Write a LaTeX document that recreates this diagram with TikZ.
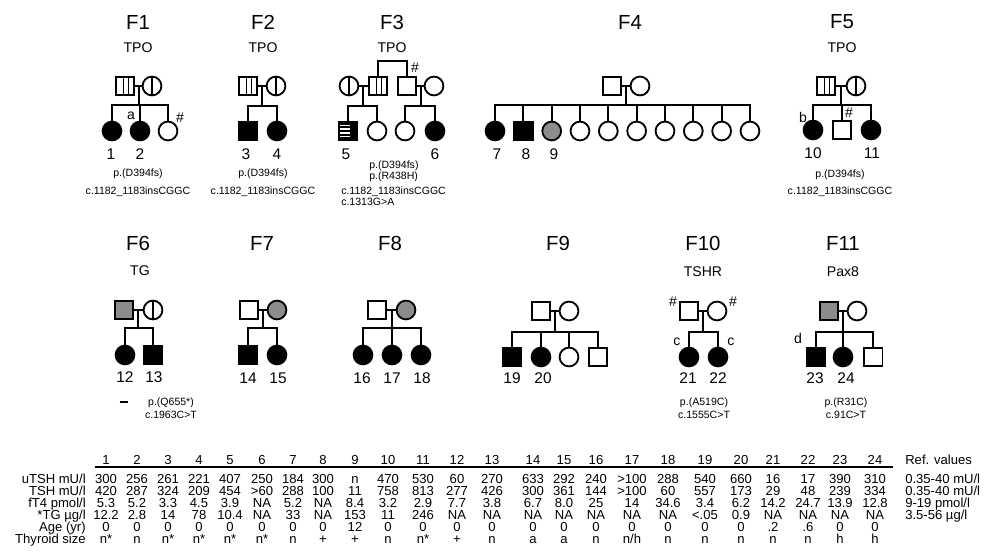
\documentclass[tikz,border=0pt]{standalone}
\usepackage{fontspec}
\setmainfont{Liberation Sans}
\usepackage{tikz}
\usetikzlibrary{calc}

\definecolor{midgray}{gray}{0.55}

\begin{document}
\begin{tikzpicture}[x=0.025cm, y=-0.025cm,
  rel/.style={line width=1.3pt},
  ind/.style={draw, line width=1.3pt, inner sep=0pt, minimum size=0.47cm},
  male/.style={ind, rectangle},
  female/.style={ind, circle},
  aff/.style={fill=black},
  half/.style={fill=midgray},
  fcar/.style={path picture={\draw[line width=1.1pt] (path picture bounding box.north) -- (path picture bounding box.south);}},
  mcar/.style={path picture={
    \draw[line width=1.1pt] ([xshift=-1pt]path picture bounding box.north) -- ([xshift=-1pt]path picture bounding box.south);
    \draw[line width=1.1pt] ([xshift=2.5pt]path picture bounding box.north) -- ([xshift=2.5pt]path picture bounding box.south);}},
  striped/.style={fill=black, path picture={
    \foreach \q in {0.2,0.4,0.6,0.8}
      \draw[white, line width=1.1pt] ($(path picture bounding box.north west)!\q!(path picture bounding box.south west)$) -- ++(8pt,0);}},
  fam/.style={font=\fontsize{14.5}{16}\selectfont, inner sep=0pt},
  gene/.style={font=\fontsize{10}{12}\selectfont, inner sep=0pt},
  num/.style={font=\fontsize{11}{13}\selectfont, inner sep=0pt},
  tag/.style={font=\fontsize{10}{12}\selectfont, inner sep=0pt},
  mut/.style={font=\fontsize{7.5}{9}\selectfont, inner sep=0pt},
  cell/.style={font=\fontsize{9.3}{10}\selectfont, inner sep=0pt, text height=6.7pt, text depth=0pt}
]
\useasboundingbox (0,0) rectangle (986,559);

% F1
\node[fam] (t1) at (138,22) {F1};
\node[gene] (g1) at (138,48) {TPO};
\node[male, mcar] (f1fa) at (125,86) {};
\node[female, fcar] (f1mo) at (152,86) {};
\coordinate (f1s) at (139,105);
\node[female, aff] (f1c1) at (112,131) {};
\node[female, aff] (f1c2) at (140,131) {};
\node[female] (f1c3) at (168,131) {};
\node[tag] (f1a) at (131,116) {a};
\node[tag] (f1h) at (180,118) {\#};
\node[num] (n1) at (111,154) {1};
\node[num] (n2) at (140,154) {2};
\node[mut] (m1a) at (138,174) {p.(D394fs)};
\node[mut] (m1b) at (138,192) {c.1182\_1183insCGGC};
\draw[rel] (f1fa) -- (f1mo);
\draw[rel] (f1s) -- (f1s |- f1fa);
\draw[rel] (f1c1) |- (f1s) -| (f1c3);
\draw[rel] (f1c2) -- (f1c2 |- f1s);

% F2
\node[fam] (t2) at (263,22) {F2};
\node[gene] (g2) at (263,48) {TPO};
\node[male, mcar] (f2fa) at (248,86) {};
\node[female, fcar] (f2mo) at (276,86) {};
\coordinate (f2s) at (262,106);
\node[male, aff] (f2c1) at (248,131) {};
\node[female, aff] (f2c2) at (277,131) {};
\node[num] (n3) at (246,154) {3};
\node[num] (n4) at (277,154) {4};
\node[mut] (m2a) at (263,174) {p.(D394fs)};
\node[mut] (m2b) at (263,192) {c.1182\_1183insCGGC};
\draw[rel] (f2fa) -- (f2mo);
\draw[rel] (f2s) -- (f2s |- f2fa);
\draw[rel] (f2c1) |- (f2s) -| (f2c2);

% F3
\node[fam] (t3) at (392,22) {F3};
\node[gene] (g3) at (392,48) {TPO};
\node[female, fcar] (f3mo1) at (349,86) {};
\node[male, mcar] (f3fa1) at (378,86) {};
\node[male] (f3fa2) at (407,86) {};
\node[female] (f3mo2) at (434,86) {};
\node[tag] (f3h) at (415,68) {\#};
\coordinate (f3s1) at (363,106);
\coordinate (f3s2) at (421,106);
\node[male, striped] (f3c1) at (348,131) {};
\node[female] (f3c2) at (377,131) {};
\node[female] (f3c3) at (405,131) {};
\node[female, aff] (f3c4) at (435,131) {};
\node[num] (n5) at (346,154) {5};
\node[num] (n6) at (435,154) {6};
\node[mut, anchor=west] (m3a) at (369,166) {p.(D394fs)};
\node[mut, anchor=west] (m3b) at (369,177) {p.(R438H)};
\node[mut, anchor=west] (m3c) at (341,192) {c.1182\_1183insCGGC};
\node[mut, anchor=west] (m3d) at (341,202) {c.1313G>A};
\draw[rel] (f3fa1.north) -- ++(0,-15) -| (f3fa2.north);
\draw[rel] (f3mo1) -- (f3fa1);
\draw[rel] (f3fa2) -- (f3mo2);
\draw[rel] (f3s1) -- (f3s1 |- f3fa1);
\draw[rel] (f3s2) -- (f3s2 |- f3fa2);
\draw[rel] (f3c1) |- (f3s1) -| (f3c2);
\draw[rel] (f3c3) |- (f3s2) -| (f3c4);

% F4
\node[fam] (t4) at (630,22) {F4};
\node[male] (f4fa) at (612,86) {};
\node[female] (f4mo) at (640,86) {};
\coordinate (f4s) at (626,105);
\node[female, aff] (f4c1) at (495,131) {};
\node[male, aff] (f4c2) at (523.3,131) {};
\node[female, half] (f4c3) at (551.7,131) {};
\foreach \k in {4,...,10}
  \node[female] (f4c\k) at ({495+(\k-1)*28.33},131) {};
\node[num] (n7) at (497,154) {7};
\node[num] (n8) at (526,154) {8};
\node[num] (n9) at (554,154) {9};
\draw[rel] (f4fa) -- (f4mo);
\draw[rel] (f4s) -- (f4s |- f4fa);
\draw[rel] (f4c1) |- (f4s) -| (f4c10);
\foreach \k in {2,...,9}
  \draw[rel] (f4c\k) -- (f4c\k |- f4s);

% F5
\node[fam] (t5) at (842,22) {F5};
\node[gene] (g5) at (842,48) {TPO};
\node[male, mcar] (f5fa) at (826,86) {};
\node[female, fcar] (f5mo) at (856,86) {};
\coordinate (f5s) at (841,105);
\node[female, aff] (f5c1) at (813,130) {};
\node[male] (f5c2) at (842,130) {};
\node[female, aff] (f5c3) at (871,130) {};
\node[tag] (f5b) at (803,117) {b};
\node[tag] (f5h) at (849,113) {\#};
\node[num] (n10) at (813,153) {10};
\node[num] (n11) at (872,153) {11};
\node[mut] (m5a) at (840,175) {p.(D394fs)};
\node[mut] (m5b) at (840,192) {c.1182\_1183insCGGC};
\draw[rel] (f5fa) -- (f5mo);
\draw[rel] (f5s) -- (f5s |- f5fa);
\draw[rel] (f5c1) |- (f5s) -| (f5c3);
\draw[rel] (f5c2) -- (f5c2 |- f5s);

% F6
\node[fam] (t6) at (138,243) {F6};
\node[gene] (g6) at (140,271) {TG};
\node[male, half] (f6fa) at (124,310) {};
\node[female, fcar] (f6mo) at (153,310) {};
\coordinate (f6s) at (138,328);
\node[female, aff] (f6c1) at (125,355) {};
\node[male, aff] (f6c2) at (153,355) {};
\node[num] (n12) at (125,377) {12};
\node[num] (n13) at (154,377) {13};
\node (f6dash) at (124,402) {\rule{6pt}{1.8pt}};
\node[mut] (m6a) at (171,403) {p.(Q655*)};
\node[mut] (m6b) at (171,415) {c.1963C>T};
\draw[rel] (f6fa) -- (f6mo);
\draw[rel] (f6s) -- (f6s |- f6fa);
\draw[rel] (f6c1) |- (f6s) -| (f6c2);

% F7
\node[fam] (t7) at (262,243) {F7};
\node[male] (f7fa) at (249,310) {};
\node[female, half] (f7mo) at (277,310) {};
\coordinate (f7s) at (263,328);
\node[male, aff] (f7c1) at (248,355) {};
\node[female, aff] (f7c2) at (277,355) {};
\node[num] (n14) at (248,378) {14};
\node[num] (n15) at (278,378) {15};
\draw[rel] (f7fa) -- (f7mo);
\draw[rel] (f7s) -- (f7s |- f7fa);
\draw[rel] (f7c1) |- (f7s) -| (f7c2);

% F8
\node[fam] (t8) at (390,243) {F8};
\node[male] (f8fa) at (377,310) {};
\node[female, half] (f8mo) at (406,310) {};
\coordinate (f8s) at (392,328);
\node[female, aff] (f8c1) at (363,355) {};
\node[female, aff] (f8c2) at (392,355) {};
\node[female, aff] (f8c3) at (421,355) {};
\node[num] (n16) at (362,378) {16};
\node[num] (n17) at (392,378) {17};
\node[num] (n18) at (422,378) {18};
\draw[rel] (f8fa) -- (f8mo);
\draw[rel] (f8s) -- (f8s |- f8fa);
\draw[rel] (f8c1) |- (f8s) -| (f8c3);
\draw[rel] (f8c2) -- (f8c2 |- f8s);

% F9
\node[fam] (t9) at (558,243) {F9};
\node[male] (f9fa) at (541,311) {};
\node[female] (f9mo) at (569,311) {};
\coordinate (f9s) at (555,332);
\node[male, aff] (f9c1) at (512,357) {};
\node[female, aff] (f9c2) at (541,357) {};
\node[female] (f9c3) at (569,357) {};
\node[male] (f9c4) at (598,357) {};
\node[num] (n19) at (512,378) {19};
\node[num] (n20) at (543,378) {20};
\draw[rel] (f9fa) -- (f9mo);
\draw[rel] (f9s) -- (f9s |- f9fa);
\draw[rel] (f9c1) |- (f9s) -| (f9c4);
\draw[rel] (f9c2) -- (f9c2 |- f9s);
\draw[rel] (f9c3) -- (f9c3 |- f9s);

% F10
\node[fam] (t10) at (703,243) {F10};
\node[gene] (g10) at (703,272) {TSHR};
\node[male] (f10fa) at (689,311) {};
\node[female] (f10mo) at (717,311) {};
\node[tag] (f10h1) at (673,302) {\#};
\node[tag] (f10h2) at (733,302) {\#};
\coordinate (f10s) at (703,332);
\node[female, aff] (f10c1) at (689,357) {};
\node[female, aff] (f10c2) at (718,357) {};
\node[tag] (f10c) at (677,342) {c};
\node[tag] (f10cc) at (731,342) {c};
\node[num] (n21) at (688,378) {21};
\node[num] (n22) at (718,378) {22};
\node[mut] (m10a) at (704,403) {p.(A519C)};
\node[mut] (m10b) at (704,415) {c.1555C>T};
\draw[rel] (f10fa) -- (f10mo);
\draw[rel] (f10s) -- (f10s |- f10fa);
\draw[rel] (f10c1) |- (f10s) -| (f10c2);

% F11
\node[fam] (t11) at (843,243) {F11};
\node[gene] (g11) at (843,272) {Pax8};
\node[male, half] (f11fa) at (829,311) {};
\node[female] (f11mo) at (857,311) {};
\coordinate (f11s) at (843,332);
\node[male, aff] (f11c1) at (816,357) {};
\node[female, aff] (f11c2) at (843,357) {};
\node[male] (f11c3) at (873,357) {};
\node[tag] (f11d) at (798,338) {d};
\node[num] (n23) at (815,378) {23};
\node[num] (n24) at (846,378) {24};
\node[mut] (m11a) at (846,403) {p.(R31C)};
\node[mut] (m11b) at (846,415) {c.91C>T};
\draw[rel] (f11fa) -- (f11mo);
\draw[rel] (f11s) -- (f11s |- f11fa);
\draw[rel] (f11c1) |- (f11s) -| (f11c3);
\draw[rel] (f11c2) -- (f11c2 |- f11s);

% table
\foreach \x [count=\i] in {106,137,168,199,230,262,293,323,355,388,423,457,492,533,564,596,632,668,705,741,773,808,840,875}
  \coordinate (col\i) at (\x,0);
\coordinate (rh) at (0,460);
\coordinate (r1) at (0,478.5);
\coordinate (r2) at (0,490.5);
\coordinate (r3) at (0,502.5);
\coordinate (r4) at (0,514.5);
\coordinate (r5) at (0,526.5);
\coordinate (r6) at (0,538.5);
\foreach \i in {1,...,24}
  \node[cell] (h\i) at (col\i |- rh) {\i};
\draw[line width=1pt] (95,467) -- (893,467);

\node[cell, anchor=east] (l1) at (86,478.5) {uTSH mU/l};
\node[cell, anchor=east] (l2) at (86,490.5) {TSH mU/l};
\node[cell, anchor=east] (l3) at (86,502.5) {fT4 pmol/l};
\node[cell, anchor=east] (l4) at (86,514.5) {*TG µg/l};
\node[cell, anchor=east] (l5) at (86,526.5) {Age (yr)};
\node[cell, anchor=east] (l6) at (86,538.5) {Thyroid size};

\foreach \v [count=\i] in {300,256,261,221,407,250,184,300,n,470,530,60,270,633,292,240,>100,288,540,660,16,17,390,310}
  \node[cell] (a\i) at (col\i |- r1) {\v};
\foreach \v [count=\i] in {420,287,324,209,454,>60,288,100,11,758,813,277,426,300,361,144,>100,60,557,173,29,48,239,334}
  \node[cell] (b\i) at (col\i |- r2) {\v};
\foreach \v [count=\i] in {5.3,5.2,3.3,4.5,3.9,NA,5.2,NA,8.4,3.2,2.9,7.7,3.8,6.7,8.0,25,14,34.6,3.4,6.2,14.2,24.7,13.9,12.8}
  \node[cell] (c\i) at (col\i |- r3) {\v};
\foreach \v [count=\i] in {12.2,2.8,14,78,10.4,NA,33,NA,153,11,246,NA,NA,NA,NA,NA,NA,NA,<.05,0.9,NA,NA,NA,NA}
  \node[cell] (d\i) at (col\i |- r4) {\v};
\foreach \v [count=\i] in {0,0,0,0,0,0,0,0,12,0,0,0,0,0,0,0,0,0,0,0,.2,.6,0,0}
  \node[cell] (e\i) at (col\i |- r5) {\v};
\foreach \v [count=\i] in {n*,n,n*,n*,n*,n*,n,+,+,n,n*,+,n,a,a,n,n/h,n,n,n,n,n,h,h}
  \node[cell] (s\i) at (col\i |- r6) {\v};

\node[cell, anchor=west] (ref0) at (905,460) {Ref. values};
\node[cell, anchor=west] (ref1) at (905,478.5) {0.35-40 mU/l};
\node[cell, anchor=west] (ref2) at (905,490.5) {0.35-40 mU/l};
\node[cell, anchor=west] (ref3) at (905,502.5) {9-19 pmol/l};
\node[cell, anchor=west] (ref4) at (905,514.5) {3.5-56 µg/l};
\end{tikzpicture}
\end{document}
